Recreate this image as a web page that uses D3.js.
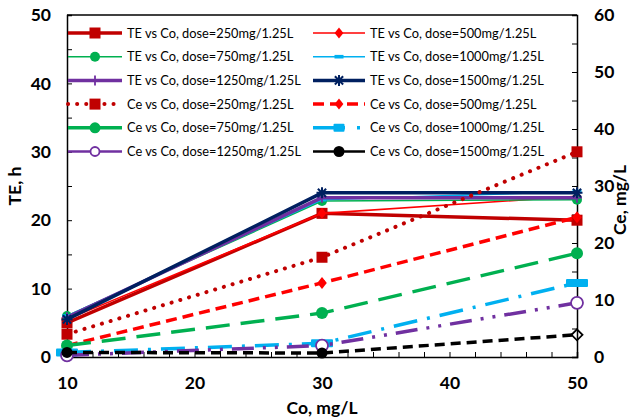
<!DOCTYPE html>
<html><head><meta charset="utf-8">
<script src="https://cdn.jsdelivr.net/npm/d3@7"></script>
<style>body{margin:0;background:#fff}svg{display:block}text{font-family:Lato,"Open Sans",sans-serif}</style>
</head><body><svg id="c" width="636" height="420"></svg>
<script>
// ---- data ----
const co = [10, 30, 50];
const doses = [250, 500, 750, 1000, 1250, 1500];
const te250 = [5, 21, 20];
const te500 = [5.5, 21, 23.5];
const te750 = [6, 22.8, 23];
const te1000 = [6, 23, 24.2];
const te1250 = [5.8, 23.3, 23.3];
const te1500 = [5.5, 24, 24];
const ce250 = [4, 17.5, 36];
const ce500 = [2, 13, 24.5];
const ce750 = [2, 7.7, 18.2];
const ce1000 = [0.8, 2.4, 13];
const ce1250 = [0.3, 2, 9.5];
const ce1500 = [0.8, 0.7, 3.9];
const xTicks = [10, 20, 30, 40, 50];
const yLeftTicks = [0, 10, 20, 30, 40, 50];
const yRightTicks = [0, 10, 20, 30, 40, 50, 60];

const svg = d3.select("#c");
const x = d3.scaleLinear().domain([10, 50]).range([67, 577]);
const yL = d3.scaleLinear().domain([0, 50]).range([357, 15]);
const yR = d3.scaleLinear().domain([0, 60]).range([357, 15]);

const series = [
  {name:"TE vs Co, dose=250mg/1.25L", v:te250, ax:yL, c:"#C00000", w:3.5, dash:null, m:"square", ms:11},
  {name:"TE vs Co, dose=500mg/1.25L", v:te500, ax:yL, c:"#FF0000", w:1.6, dash:null, m:"diamond", ms:11},
  {name:"TE vs Co, dose=750mg/1.25L", v:te750, ax:yL, c:"#00B050", w:1.6, dash:null, m:"circle", ms:10},
  {name:"TE vs Co, dose=1000mg/1.25L", v:te1000, ax:yL, c:"#00B0F0", w:1.6, dash:null, m:"hbar", ms:9},
  {name:"TE vs Co, dose=1250mg/1.25L", v:te1250, ax:yL, c:"#7030A0", w:3.5, dash:null, m:"plus", ms:10},
  {name:"TE vs Co, dose=1500mg/1.25L", v:te1500, ax:yL, c:"#002060", w:3.5, dash:null, m:"star", ms:11},
  {name:"Ce vs Co, dose=250mg/1.25L", v:ce250, ax:yR, c:"#C00000", w:4, dash:"0.1 9", cap:"round", m:"square", ms:11},
  {name:"Ce vs Co, dose=500mg/1.25L", v:ce500, ax:yR, c:"#FF0000", w:3.5, dash:"11 6", m:"diamond", ms:12},
  {name:"Ce vs Co, dose=750mg/1.25L", v:ce750, ax:yR, c:"#00B050", w:3.5, dash:"24 11", m:"circle", ms:12, ldash:null},
  {name:"Ce vs Co, dose=1000mg/1.25L", v:ce1000, ax:yR, c:"#00B0F0", w:3.5, dash:"24 10 3 10", m:"wbar", ms:22, ldash:"32 12 3 20"},
  {name:"Ce vs Co, dose=1250mg/1.25L", v:ce1250, ax:yR, c:"#7030A0", w:3.5, dash:"22 9 3 9 3 9", m:"ocircle", ms:14, ldash:null, lw:2.5},
  {name:"Ce vs Co, dose=1500mg/1.25L", v:ce1500, ax:yR, c:"#000000", w:3.5, dash:"10 6", m:"circle", ms:11, last:"odiamond", ldash:null, lw:2.5}
];

function marker(g, type, cx, cy, s, col){
  const h = s/2;
  if(type==="square") g.append("rect").attr("x",cx-h).attr("y",cy-h).attr("width",s).attr("height",s).attr("fill",col);
  else if(type==="diamond") g.append("path").attr("d",`M${cx},${cy-h}L${cx+h*0.8},${cy}L${cx},${cy+h}L${cx-h*0.8},${cy}Z`).attr("fill",col);
  else if(type==="circle") g.append("circle").attr("cx",cx).attr("cy",cy).attr("r",h).attr("fill",col);
  else if(type==="ocircle") g.append("circle").attr("cx",cx).attr("cy",cy).attr("r",h-1).attr("fill","#fff").attr("stroke",col).attr("stroke-width",1.8);
  else if(type==="hbar") g.append("rect").attr("x",cx-h).attr("y",cy-1.8).attr("width",s).attr("height",3.6).attr("fill",col);
  else if(type==="wbar") g.append("rect").attr("x",cx-h).attr("y",cy-4).attr("width",s).attr("height",8).attr("rx",1).attr("fill",col);
  else if(type==="plus") g.append("path").attr("d",`M${cx-h},${cy}H${cx+h}M${cx},${cy-h}V${cy+h}`).attr("stroke",col).attr("stroke-width",1.8);
  else if(type==="star") g.append("path").attr("d",`M${cx-h},${cy}H${cx+h}M${cx},${cy-h}V${cy+h}M${cx-h*0.75},${cy-h*0.75}L${cx+h*0.75},${cy+h*0.75}M${cx-h*0.75},${cy+h*0.75}L${cx+h*0.75},${cy-h*0.75}`).attr("stroke",col).attr("stroke-width",2);
  else if(type==="odiamond") g.append("path").attr("d",`M${cx},${cy-h}L${cx+h},${cy}L${cx},${cy+h}L${cx-h},${cy}Z`).attr("fill","none").attr("stroke",col).attr("stroke-width",1.8);
}

// axes
const ax = svg.append("g");
ax.append("g").attr("transform","translate(67,0)")
  .call(d3.axisLeft(yL).tickValues(d3.range(0,51,5)).tickSize(-5).tickPadding(16).tickFormat(d => yLeftTicks.includes(d) ? d : ""));
ax.append("g").attr("transform","translate(577,0)")
  .call(d3.axisRight(yR).tickValues(d3.range(0,61,5)).tickSize(-5).tickPadding(17).tickFormat(d => yRightTicks.includes(d) ? d : ""));
ax.append("g").attr("transform","translate(0,357)")
  .call(d3.axisBottom(x).tickValues(d3.range(10,51,2)).tickSize(-5).tickPadding(20).tickFormat(d => xTicks.includes(d) ? d : ""));
ax.append("line").attr("x1",67).attr("x2",577).attr("y1",15).attr("y2",15).attr("stroke","#000").attr("stroke-width",1.5);
ax.selectAll(".domain").attr("stroke","#000").attr("stroke-width",1.5);
ax.selectAll(".tick line").attr("stroke","#000").attr("stroke-width",1);
ax.selectAll(".tick text").attr("font-size",17.5).attr("font-weight","bold").attr("fill","#000").style("font-family","Lato");

// axis titles
svg.append("text").attr("transform","translate(21,186) rotate(-90)").attr("text-anchor","middle")
  .attr("font-size",17.5).attr("font-weight","bold").text("TE, h");
svg.append("text").attr("transform","translate(626,200) rotate(-90)").attr("text-anchor","middle")
  .attr("font-size",17.5).attr("font-weight","bold").text("Ce, mg/L");
svg.append("text").attr("x",322).attr("y",414).attr("text-anchor","middle")
  .attr("font-size",17.5).attr("font-weight","bold").text("Co, mg/L");

// series
const plot = svg.append("g");
series.forEach(s => {
  const line = d3.line().x((d,i)=>x(co[i])).y(d=>s.ax(d));
  plot.append("path").attr("d",line(s.v)).attr("fill","none").attr("stroke",s.c).attr("stroke-width",s.w)
    .attr("stroke-dasharray",s.dash).attr("stroke-linecap",s.cap||"butt").attr("stroke-linejoin","round");
  s.v.forEach((d,i)=>{
    const t = (i===s.v.length-1 && s.last) ? s.last : s.m;
    marker(plot, t, x(co[i]), s.ax(d), s.ms, s.c);
  });
});

// legend
const lg = svg.append("g");
series.forEach((s,i)=>{
  const col = i%2, row = Math.floor(i/2);
  const x0 = col===0 ? 68 : 313, x1 = col===0 ? 122 : 365, y = 33 + row*23.7;
  const ld = ("ldash" in s) ? s.ldash : s.dash;
  lg.append("line").attr("x1",x0).attr("x2",x1).attr("y1",y).attr("y2",y).attr("stroke",s.c).attr("stroke-width",s.lw||s.w)
    .attr("stroke-dasharray",ld).attr("stroke-linecap",s.cap||"butt");
  marker(lg, s.m, (x0+x1)/2, y, Math.min(s.ms,11), s.c);
  lg.append("text").attr("x",x1+5).attr("y",y+4.5).attr("font-size",12.8).attr("fill","#000").text(s.name);
});
</script></body></html>
